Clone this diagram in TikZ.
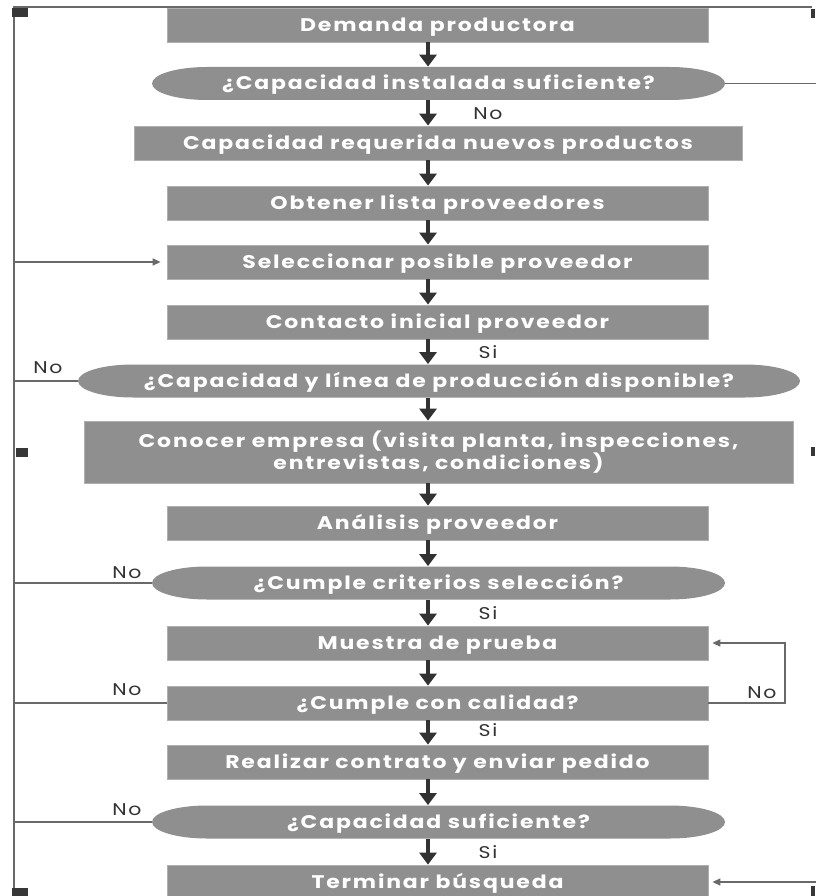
\documentclass[tikz,border=0pt]{standalone}
\usepackage{fontspec}
\setmainfont{Poppins}
\newfontfamily\flowfont{Poppins}[FakeStretch=1.2,LetterSpace=10]
\usetikzlibrary{shapes.geometric,arrows.meta,calc}
\definecolor{boxgray}{RGB}{143,143,143}
\definecolor{edgegray}{RGB}{175,175,175}
\definecolor{arrowdark}{RGB}{50,50,50}
\definecolor{linegray}{RGB}{105,105,105}
\definecolor{handledark}{RGB}{55,55,55}

\tikzset{
  stepbox/.style={draw=edgegray, line width=0.8pt, fill=boxgray, text=white,
    font=\flowfont\bfseries\fontsize{18.3}{22}\selectfont,
    text height=12.8pt, text depth=0pt,
    minimum width=541pt, minimum height=34pt, inner sep=0pt, align=center},
  % decision: a long oval with elliptic end caps, filled inside the node frame
  decision/.style={stepbox, draw=none, fill=none, minimum width=573pt, minimum height=33pt,
    path picture={
      \fill[boxgray]
        ($(path picture bounding box.north west)+(55,0)$)
        -- ($(path picture bounding box.north east)+(-55,0)$)
        arc[start angle=-90, end angle=90, x radius=55, y radius=16.5]
        -- ($(path picture bounding box.south west)+(55,0)$)
        arc[start angle=90, end angle=270, x radius=55, y radius=16.5]
        -- cycle;
    }},
  flow/.style={arrowdark, line width=4pt, -{Triangle[width=17pt,length=12pt]}},
  back/.style={linegray, line width=1.3pt},
  backarrow/.style={back, -{Triangle[width=7pt,length=8pt]}},
  lbl/.style={font=\flowfont\fontsize{17}{20}\selectfont, text=arrowdark, inner sep=0pt},
  handle/.style={fill=handledark}
}

\begin{document}
\begin{tikzpicture}[x=1pt, y=-1pt]
  \useasboundingbox (0,0) rectangle (815,896);

  % process steps and decisions, top to bottom
  \node[stepbox]  (b1)  at (437.5,25)  {Demanda productora};
  \node[decision] (e1)  at (438.5,83.5) {¿Capacidad instalada suficiente?};
  \node[stepbox, minimum width=608pt] (b2) at (438,143) {Capacidad requerida nuevos productos};
  \node[stepbox]  (b3)  at (437.5,203) {Obtener lista proveedores};
  \node[stepbox]  (b4)  at (437.5,262) {Seleccionar posible proveedor};
  \node[stepbox]  (b5)  at (437.5,322) {Contacto inicial proveedor};
  \node[decision, minimum width=722pt] (e2) at (439,381) {¿Capacidad y línea de producción disponible?};
  \node[stepbox, minimum width=709pt, minimum height=62pt, text height=34.8pt, text depth=0pt] (b6) at (438.5,452)
    {Conocer empresa (visita planta, inspecciones,\\ entrevistas, condiciones)};
  \node[stepbox]  (b7)  at (437.5,523) {Análisis proveedor};
  \node[decision] (e3)  at (438.5,583) {¿Cumple criterios selección?};
  \node[stepbox]  (b8)  at (437.5,643) {Muestra de prueba};
  \node[stepbox]  (b9)  at (437.5,703) {¿Cumple con calidad?};
  \node[stepbox]  (b10) at (437.5,762) {Realizar contrato y enviar pedido};
  \node[decision] (e4)  at (438.5,822) {¿Capacidad suficiente?};
  \node[stepbox]  (b11) at (437.5,882) {Terminar búsqueda};

  % guide lines for the connectors
  \coordinate (ax) at (428,0);
  \coordinate (lx) at (14,0);
  \coordinate (rx) at (818,0);
  \coordinate (qx) at (785,0);
  \coordinate (tl) at (14,7);
  \coordinate (tr) at (812,7);
  \coordinate (bl) at (14,900);

  % main downward flow
  \foreach \a/\b in {b1/e1, e1/b2, b2/b3, b3/b4, b4/b5, b5/e2, e2/b6, b6/b7,
                     b7/e3, e3/b8, b8/b9, b9/b10, b10/e4, e4/b11}
    \draw[flow] (\a.south -| ax) -- (\b.north -| ax);

  % outer frame line and left return line
  \draw[back] (tr) -- (tl) -- (bl);

  % "No" branches back to the left return line
  \draw[back] (e2.west) -- (e2.west -| lx);
  \draw[back] (e3.west) -- (e3.west -| lx);
  \draw[back] (b9.west) -- (b9.west -| lx);
  \draw[back] (e4.west) -- (e4.west -| lx);
  \draw[backarrow, shorten >=6pt] (b4.west -| lx) -- (b4.west);

  % enough installed capacity: straight to the end
  \draw[backarrow, shorten >=4pt] (e1.east) -- (e1.east -| rx) -- (b11.east -| rx) -- (b11.east);

  % quality loop back to a new sample
  \draw[backarrow, shorten >=4pt] (b9.east) -- (b9.east -| qx) -- (b8.east -| qx) -- (b8.east);

  % branch labels
  \node[lbl] (n1) at (488,114) {No};
  \node[lbl] (s1) at (488,352) {Si};
  \node[lbl] (n2) at (48,368)  {No};
  \node[lbl] (n3) at (127,573) {No};
  \node[lbl] (s2) at (488,613) {Si};
  \node[lbl] (n4) at (127,690) {No};
  \node[lbl] (n5) at (762,693) {No};
  \node[lbl] (s3) at (488,730) {Si};
  \node[lbl] (n6) at (127,810) {No};
  \node[lbl] (s4) at (488,852) {Si};

  % selection handles around the frame
  \fill[handle] (12,8) rectangle (28,17);
  \fill[handle] (16,448) rectangle (28,457);
  \fill[handle] (12,888) rectangle (28,896);
  \fill[handle] (811,9) rectangle (815,18);
  \fill[handle] (811,447) rectangle (815,456);
  \fill[handle] (811,886) rectangle (815,896);
\end{tikzpicture}
\end{document}
